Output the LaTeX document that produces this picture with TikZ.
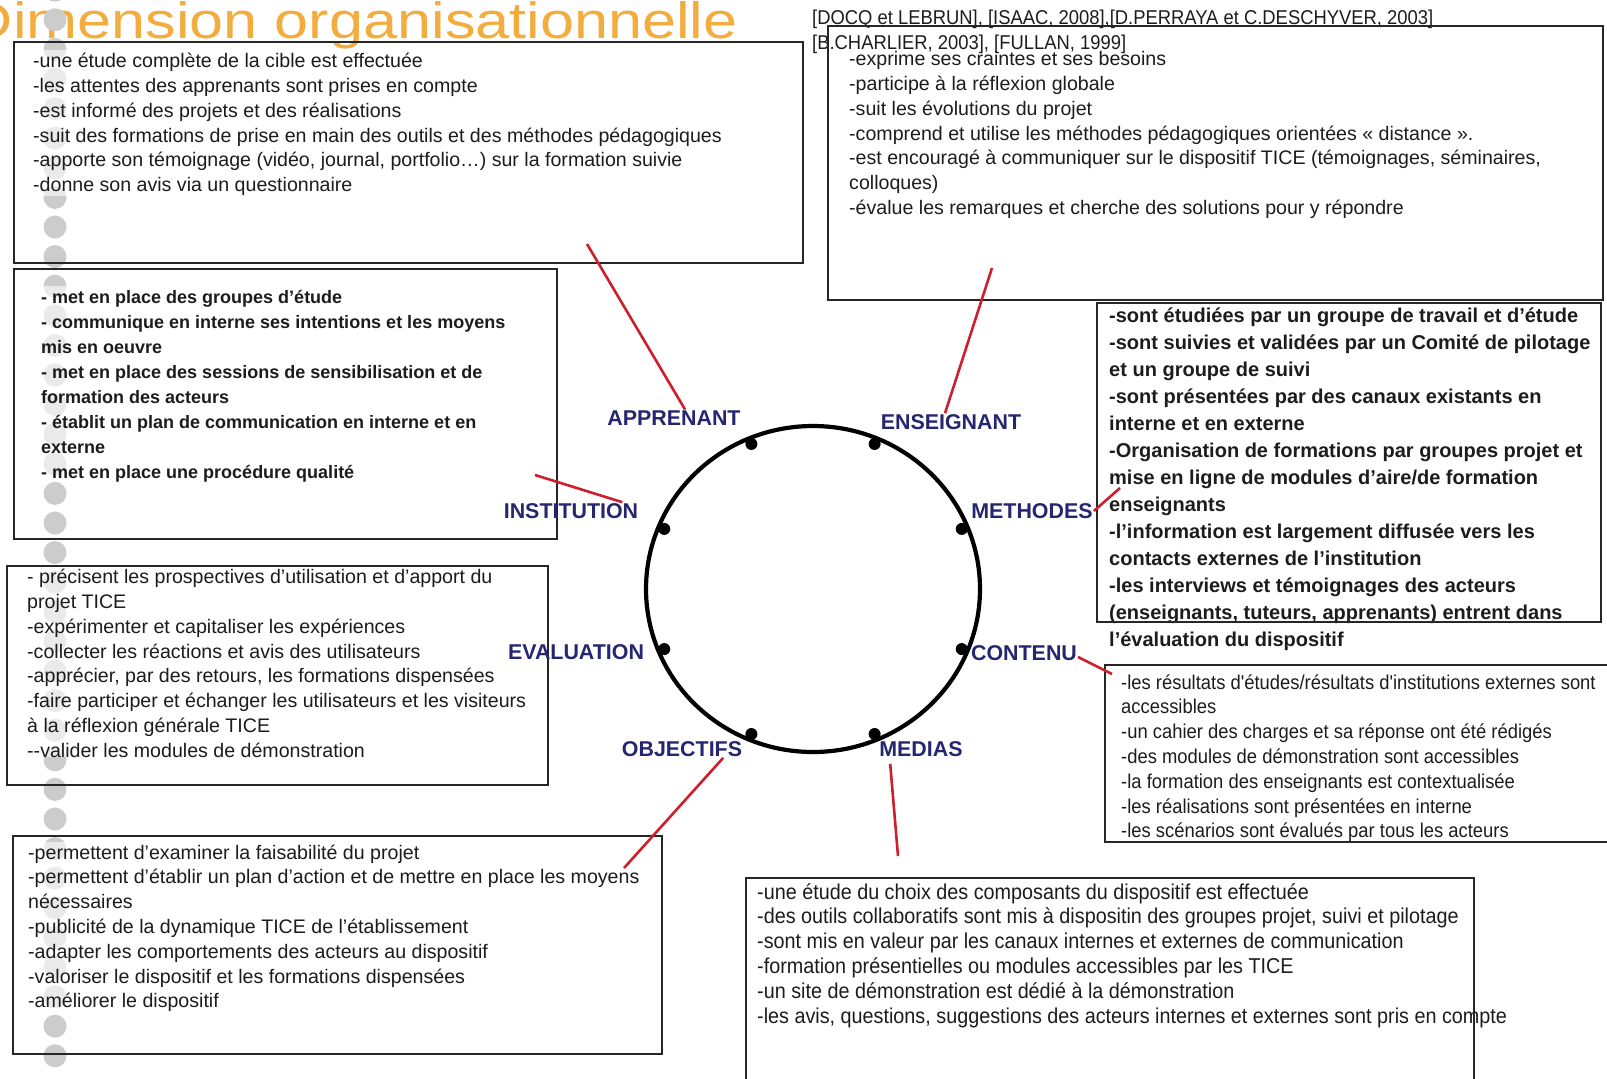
\documentclass[tikz,border=0pt]{standalone}
\usepackage{fontspec}
\setmainfont{Liberation Sans}
\newfontfamily\narrowfont[FakeStretch=0.92]{Liberation Sans}
\newfontfamily\widefont[FakeStretch=1.2]{Liberation Sans}
\usetikzlibrary{positioning}
\definecolor{titleorange}{RGB}{243,172,62}
\definecolor{labelnavy}{RGB}{38,38,112}
\definecolor{linkred}{RGB}{205,30,45}
\definecolor{dotgrey}{RGB}{204,204,204}
\definecolor{textgrey}{RGB}{28,28,28}
\tikzset{
  title/.style={anchor=base east, inner sep=0pt, text=titleorange,
    font=\widefont\fontsize{51}{55}\selectfont},
  panel/.style={draw=black!85, line width=1.8pt, anchor=north west, inner sep=0pt},
  bullets/.style={anchor=north west, inner sep=0pt, align=left, text=textgrey},
  veil/.style={fill=white, fill opacity=0.6, text opacity=1},
  plain/.style={bullets, font=\fontsize{19.6}{24.8}\selectfont},
  heavy/.style={bullets, font=\fontsize{#1}{27}\selectfont\bfseries},
  slim/.style={bullets, font=\narrowfont\fontsize{#1}{24.8}\selectfont},
  axislabel/.style={font=\fontsize{21.4}{24}\selectfont\bfseries, text=labelnavy, inner sep=1pt},
  link/.style={draw=linkred, line width=2.6pt},
  ring/.style={draw=black, line width=4.2pt},
}

\begin{document}
\begin{tikzpicture}[x=1pt, y=-1pt]
  \useasboundingbox (0,0) rectangle (1607,1079);
  % titre
  \node[title] (titre) at (738,38) {Dimension organisationnelle};
  % colonne de points
  \foreach \y in {-9.8,19.8,...,1085}
    \fill[dotgrey] (55,\y) circle (11.5pt);

  % textes
  \node[plain, veil] (apprtxt) at (33,50.2) {\strut-une étude complète de la cible est effectuée\\
    -les attentes des apprenants sont prises en compte\\
    -est informé des projets et des réalisations\\
    -suit des formations de prise en main des outils et des méthodes pédagogiques\\
    -apporte son témoignage (vidéo, journal, portfolio…) sur la formation suivie\\
    -donne son avis via un questionnaire};
  \node[slim=20, font=\narrowfont\fontsize{20}{24.5}\selectfont] (refs) at (812,7.5)
    {\strut[DOCQ et LEBRUN], [ISAAC, 2008],[D.PERRAYA et C.DESCHYVER, 2003]\\{}%
    [B.CHARLIER, 2003], [FULLAN, 1999]};
  \node[plain] (enstxt) at (849,48.1) {\strut-exprime ses craintes et ses besoins\\
    -participe à la réflexion globale\\
    -suit les évolutions du projet\\
    -comprend et utilise les méthodes pédagogiques orientées « distance ».\\
    -est encouragé à communiquer sur le dispositif TICE (témoignages, séminaires,\\
    colloques)\\
    -évalue les remarques et cherche des solutions pour y répondre};
  \node[heavy=20] (methtxt) at (1109,303.1) {\strut-sont étudiées par un groupe de travail et d’étude\\
    -sont suivies et validées par un Comité de pilotage\\
    et un groupe de suivi\\
    -sont présentées par des canaux existants en\\
    interne et en externe\\
    -Organisation de formations par groupes projet et\\
    mise en ligne de modules d'aire/de formation\\
    enseignants\\
    -l’information est largement diffusée vers les\\
    contacts externes de l’institution\\
    -les interviews et témoignages des acteurs\\
    (enseignants, tuteurs, apprenants) entrent dans\\
    l’évaluation du dispositif};
  \node[heavy=18, veil, font=\fontsize{18}{24.9}\selectfont\bfseries] (insttxt) at (41,286.1)
    {\strut- met en place des groupes d’étude\\
    - communique en interne ses intentions et les moyens\\
    mis en oeuvre\\
    - met en place des sessions de sensibilisation et de\\
    formation des acteurs\\
    - établit un plan de communication en interne et en\\
    externe\\
    - met en place une procédure qualité};
  \node[plain, veil] (evaltxt) at (27,566.1) {\strut- précisent les prospectives d’utilisation et d’apport du\\
    projet TICE\\
    -expérimenter et capitaliser les expériences\\
    -collecter les réactions et avis des utilisateurs\\
    -apprécier, par des retours, les formations dispensées\\
    -faire participer et échanger les utilisateurs et les visiteurs\\
    à la réflexion générale TICE\\
    -{}-valider les modules de démonstration};
  \node[slim=20] (conttxt) at (1121,671.5) {\strut-les résultats d'études/résultats d'institutions externes sont\\
    accessibles\\
    -un cahier des charges et sa réponse ont été rédigés\\
    -des modules de démonstration sont accessibles\\
    -la formation des enseignants est contextualisée\\
    -les réalisations sont présentées en interne\\
    -les scénarios sont évalués par tous les acteurs};
  \node[plain, veil] (objtxt) at (28,841.6) {\strut-permettent d'examiner la faisabilité du projet\\
    -permettent d'établir un plan d'action et de mettre en place les moyens\\
    nécessaires\\
    -publicité de la dynamique TICE de l'établissement\\
    -adapter les comportements des acteurs au dispositif\\
    -valoriser le dispositif et les formations dispensées\\
    -améliorer le dispositif};
  \node[slim=21.5] (medtxt) at (757,881.6) {\strut-une étude du choix des composants du dispositif est effectuée\\
    -des outils collaboratifs sont mis à dispositin des groupes projet, suivi et pilotage\\
    -sont mis en valeur par les canaux internes et externes de communication\\
    -formation présentielles ou modules accessibles par les TICE\\
    -un site de démonstration est dédié à la démonstration\\
    -les avis, questions, suggestions des acteurs internes et externes sont pris en compte};

  % cadres
  \node[panel, minimum width=789pt, minimum height=221pt] (apprbox) at (13,41)   {};
  \node[panel, minimum width=775pt, minimum height=274pt] (ensbox)  at (827,25)  {};
  \node[panel, minimum width=504pt, minimum height=319pt] (methbox) at (1096,302){};
  \node[panel, minimum width=543pt, minimum height=270pt] (instbox) at (13,268)  {};
  \node[panel, minimum width=541pt, minimum height=219pt] (evalbox) at (6,565)   {};
  \node[panel, minimum width=520pt, minimum height=177pt] (contbox) at (1104,664){};
  \node[panel, minimum width=649pt, minimum height=218pt] (objbox)  at (12,835)  {};
  \node[panel, minimum width=728pt, minimum height=230pt] (medbox)  at (745,877) {};

  % roue centrale
  \coordinate (hub) at (813,589);
  \draw[ring] (hub) ellipse [x radius=167pt, y radius=163pt];
  \foreach \a in {22.5,67.5,...,337.5}
    \fill (hub) ++(\a:161pt and 157pt) circle (6pt);

  % axes
  \node[axislabel] (apprenant)   at (674,418) {APPRENANT};
  \node[axislabel] (enseignant)  at (951,422) {ENSEIGNANT};
  \node[axislabel] (institution) at (571,511) {INSTITUTION};
  \node[axislabel] (methodes)    at (1032,511){METHODES};
  \node[axislabel] (evaluation)  at (576,652) {EVALUATION};
  \node[axislabel] (contenu)     at (1024,653){CONTENU};
  \node[axislabel] (objectifs)   at (682,749) {OBJECTIFS};
  \node[axislabel] (medias)      at (921,749) {MEDIAS};

  % liens
  \coordinate (appr-end) at (587,244);
  \coordinate (ens-end)  at (992,268);
  \coordinate (inst-end) at (535,475);
  \coordinate (meth-end) at (1120,488);
  \coordinate (cont-end) at (1112,674);
  \coordinate (obj-end)  at (624,868);
  \coordinate (med-end)  at (898,856);
  \draw[link] ([xshift=11pt]apprenant.north) -- (appr-end);
  \draw[link] ([xshift=-6pt]enseignant.north) -- (ens-end);
  \draw[link] ([xshift=-17pt]institution.north east) -- (inst-end);
  \draw[link] (methodes.east) -- (meth-end);
  \draw[link] ([yshift=-4pt]contenu.east) -- (cont-end);
  \draw[link] ([xshift=-20pt]objectifs.south east) -- (obj-end);
  \draw[link] ([xshift=12pt,yshift=-6pt]medias.south west) -- (med-end);
\end{tikzpicture}
\end{document}
